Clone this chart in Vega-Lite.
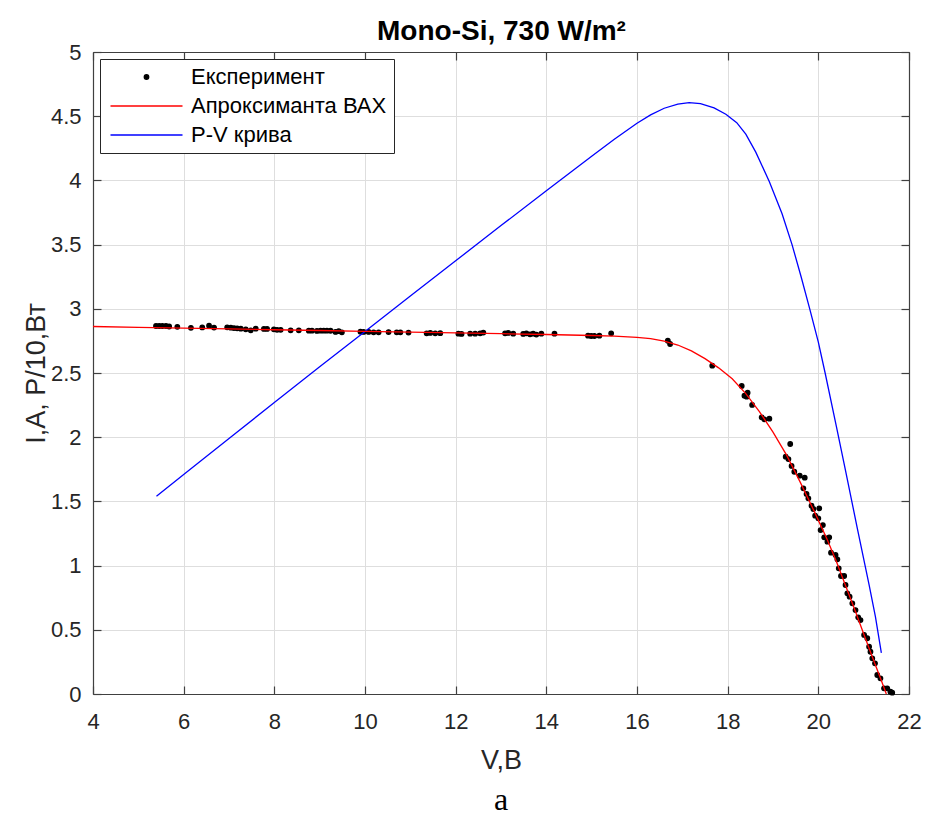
{
  "$schema": "https://vega.github.io/schema/vega-lite/v6.json",
  "width": 816,
  "height": 642,
  "autosize": "none",
  "padding": {"left": 93, "top": 52, "right": 18, "bottom": 126},
  "background": "white",
  "title": {"text": "а", "orient": "bottom", "font": "Liberation Serif", "fontSize": 32, "fontWeight": "normal", "color": "black", "offset": 12},
  "config": {
    "view": {"stroke": null},
    "axis": {
      "labelFont": "Liberation Sans",
      "titleFont": "Liberation Sans",
      "labelFontSize": 22,
      "titleFontSize": 27,
      "titleFontWeight": "normal",
      "labelColor": "#262626",
      "titleColor": "#262626",
      "domainColor": "#404040",
      "tickColor": "#404040",
      "domainWidth": 1.2,
      "tickWidth": 1.2,
      "gridColor": "#dedede",
      "gridWidth": 1,
      "labelOverlap": false,
      "labelFlush": false
    },
    "legend": {
      "labelFont": "Liberation Sans",
      "labelFontSize": 22,
      "labelColor": "black",
      "labelLimit": 400
    }
  },
  "datasets": {
    "exp": [
      {"V": 5.39, "I": 2.866}, {"V": 5.46, "I": 2.866}, {"V": 5.53, "I": 2.866}, {"V": 5.61, "I": 2.866},
      {"V": 5.68, "I": 2.862}, {"V": 5.86, "I": 2.860}, {"V": 6.16, "I": 2.852}, {"V": 6.41, "I": 2.855},
      {"V": 6.56, "I": 2.868}, {"V": 6.67, "I": 2.854}, {"V": 6.96, "I": 2.856}, {"V": 7.04, "I": 2.853},
      {"V": 7.11, "I": 2.850}, {"V": 7.18, "I": 2.848}, {"V": 7.26, "I": 2.845}, {"V": 7.37, "I": 2.840},
      {"V": 7.48, "I": 2.832}, {"V": 7.59, "I": 2.845}, {"V": 7.77, "I": 2.843}, {"V": 7.84, "I": 2.843},
      {"V": 7.99, "I": 2.840}, {"V": 8.06, "I": 2.836}, {"V": 8.14, "I": 2.836}, {"V": 8.36, "I": 2.832},
      {"V": 8.54, "I": 2.832}, {"V": 8.76, "I": 2.830}, {"V": 8.83, "I": 2.830}, {"V": 8.94, "I": 2.828},
      {"V": 9.02, "I": 2.830}, {"V": 9.09, "I": 2.830}, {"V": 9.16, "I": 2.830}, {"V": 9.24, "I": 2.829},
      {"V": 9.35, "I": 2.820}, {"V": 9.42, "I": 2.826}, {"V": 9.49, "I": 2.817}, {"V": 9.90, "I": 2.822},
      {"V": 9.97, "I": 2.820}, {"V": 10.08, "I": 2.820}, {"V": 10.19, "I": 2.817}, {"V": 10.30, "I": 2.817},
      {"V": 10.52, "I": 2.819}, {"V": 10.70, "I": 2.817}, {"V": 10.78, "I": 2.817}, {"V": 10.96, "I": 2.815},
      {"V": 11.36, "I": 2.809}, {"V": 11.44, "I": 2.812}, {"V": 11.55, "I": 2.809}, {"V": 11.66, "I": 2.810},
      {"V": 12.06, "I": 2.806}, {"V": 12.13, "I": 2.804}, {"V": 12.32, "I": 2.806}, {"V": 12.43, "I": 2.806},
      {"V": 12.54, "I": 2.809}, {"V": 12.61, "I": 2.815}, {"V": 13.09, "I": 2.809}, {"V": 13.16, "I": 2.812},
      {"V": 13.27, "I": 2.806}, {"V": 13.49, "I": 2.804}, {"V": 13.56, "I": 2.809}, {"V": 13.64, "I": 2.801},
      {"V": 13.71, "I": 2.806}, {"V": 13.78, "I": 2.799}, {"V": 13.89, "I": 2.806}, {"V": 14.18, "I": 2.806},
      {"V": 14.92, "I": 2.791}, {"V": 14.99, "I": 2.788}, {"V": 15.06, "I": 2.788}, {"V": 15.17, "I": 2.791},
      {"V": 15.43, "I": 2.809},
      {"V": 16.68, "I": 2.752}, {"V": 16.73, "I": 2.726}, {"V": 17.66, "I": 2.557},
      {"V": 18.31, "I": 2.399}, {"V": 18.37, "I": 2.323}, {"V": 18.44, "I": 2.347}, {"V": 18.42, "I": 2.316},
      {"V": 18.54, "I": 2.251}, {"V": 18.75, "I": 2.155}, {"V": 18.81, "I": 2.139}, {"V": 18.92, "I": 2.144},
      {"V": 19.38, "I": 1.947}, {"V": 19.28, "I": 1.848}, {"V": 19.34, "I": 1.830}, {"V": 19.41, "I": 1.776},
      {"V": 19.47, "I": 1.731}, {"V": 19.59, "I": 1.700}, {"V": 19.70, "I": 1.685}, {"V": 19.67, "I": 1.602},
      {"V": 19.74, "I": 1.558}, {"V": 19.78, "I": 1.524}, {"V": 19.85, "I": 1.467}, {"V": 19.89, "I": 1.441},
      {"V": 20.02, "I": 1.446}, {"V": 19.93, "I": 1.389}, {"V": 20.00, "I": 1.368}, {"V": 20.10, "I": 1.316},
      {"V": 20.05, "I": 1.277}, {"V": 20.13, "I": 1.220}, {"V": 20.24, "I": 1.220}, {"V": 20.20, "I": 1.186},
      {"V": 20.28, "I": 1.101}, {"V": 20.38, "I": 1.083}, {"V": 20.42, "I": 1.049}, {"V": 20.45, "I": 0.979},
      {"V": 20.50, "I": 0.919}, {"V": 20.57, "I": 0.919}, {"V": 20.60, "I": 0.849}, {"V": 20.64, "I": 0.784},
      {"V": 20.69, "I": 0.758}, {"V": 20.75, "I": 0.706}, {"V": 20.82, "I": 0.654}, {"V": 20.88, "I": 0.597},
      {"V": 20.93, "I": 0.576}, {"V": 21.01, "I": 0.460}, {"V": 21.08, "I": 0.434}, {"V": 21.12, "I": 0.368},
      {"V": 21.15, "I": 0.329}, {"V": 21.19, "I": 0.278}, {"V": 21.25, "I": 0.239}, {"V": 21.30, "I": 0.148},
      {"V": 21.37, "I": 0.122}, {"V": 21.45, "I": 0.044}, {"V": 21.52, "I": 0.044}, {"V": 21.59, "I": 0.018},
      {"V": 21.63, "I": 0.010}
    ],
    "fit": [
      {"V": 4.0, "I": 2.862}, {"V": 5.0, "I": 2.856}, {"V": 6.0, "I": 2.850}, {"V": 7.0, "I": 2.843},
      {"V": 8.0, "I": 2.837}, {"V": 9.0, "I": 2.831}, {"V": 10.0, "I": 2.824}, {"V": 11.0, "I": 2.818},
      {"V": 12.0, "I": 2.812}, {"V": 13.0, "I": 2.806}, {"V": 14.0, "I": 2.800}, {"V": 15.0, "I": 2.792},
      {"V": 15.5, "I": 2.787}, {"V": 16.0, "I": 2.778}, {"V": 16.3, "I": 2.767}, {"V": 16.6, "I": 2.748},
      {"V": 16.9, "I": 2.718}, {"V": 17.2, "I": 2.672}, {"V": 17.5, "I": 2.612}, {"V": 17.8, "I": 2.540},
      {"V": 18.1, "I": 2.455}, {"V": 18.4, "I": 2.340}, {"V": 18.7, "I": 2.200}, {"V": 19.0, "I": 2.040},
      {"V": 19.3, "I": 1.860}, {"V": 19.6, "I": 1.650}, {"V": 19.9, "I": 1.430}, {"V": 20.2, "I": 1.200},
      {"V": 20.4, "I": 1.030}, {"V": 20.6, "I": 0.845}, {"V": 20.8, "I": 0.660}, {"V": 21.0, "I": 0.470},
      {"V": 21.2, "I": 0.280}, {"V": 21.4, "I": 0.095}, {"V": 21.5, "I": 0.0}
    ],
    "pv": [
      {"V": 5.4, "P": 1.540}, {"V": 6.0, "P": 1.710}, {"V": 7.0, "P": 1.990}, {"V": 8.0, "P": 2.270},
      {"V": 9.0, "P": 2.548}, {"V": 10.0, "P": 2.824}, {"V": 11.0, "P": 3.100}, {"V": 12.0, "P": 3.374},
      {"V": 13.0, "P": 3.648}, {"V": 14.0, "P": 3.920}, {"V": 15.0, "P": 4.188}, {"V": 15.5, "P": 4.320},
      {"V": 16.0, "P": 4.445}, {"V": 16.3, "P": 4.510}, {"V": 16.6, "P": 4.562}, {"V": 16.9, "P": 4.594},
      {"V": 17.15, "P": 4.605}, {"V": 17.4, "P": 4.598}, {"V": 17.7, "P": 4.565}, {"V": 17.96, "P": 4.515},
      {"V": 18.2, "P": 4.450}, {"V": 18.4, "P": 4.360}, {"V": 18.62, "P": 4.220}, {"V": 18.92, "P": 3.990},
      {"V": 19.2, "P": 3.740}, {"V": 19.42, "P": 3.500}, {"V": 19.62, "P": 3.250}, {"V": 19.81, "P": 3.000},
      {"V": 20.0, "P": 2.740}, {"V": 20.15, "P": 2.500}, {"V": 20.4, "P": 2.080}, {"V": 20.6, "P": 1.740},
      {"V": 20.86, "P": 1.290}, {"V": 21.12, "P": 0.850}, {"V": 21.26, "P": 0.600}, {"V": 21.39, "P": 0.320}
    ]
  },
  "layer": [
    {
      "data": {"name": "exp"},
      "mark": {
        "type": "point", "filled": true, "size": 100, "opacity": 1, "strokeWidth": 1.3,
        "fill": {"expr": "datum.value === 'Апроксиманта ВАХ' || datum.value === 'P-V крива' ? 'transparent' : 'black'"},
        "stroke": {"expr": "datum.value === 'Апроксиманта ВАХ' ? 'red' : (datum.value === 'P-V крива' ? 'blue' : 'black')"}
      },
      "encoding": {
        "x": {
          "field": "V", "type": "quantitative",
          "scale": {"domain": [4, 22], "nice": false, "zero": false},
          "axis": {
            "orient": "bottom", "values": [4, 6, 8, 10, 12, 14, 16, 18, 20, 22], "format": "~g",
            "title": "V,B", "grid": true, "tickSize": -8, "labelPadding": 25, "titlePadding": 15
          }
        },
        "y": {
          "field": "I", "type": "quantitative",
          "scale": {"domain": [0, 5], "nice": false, "zero": false},
          "axis": {
            "orient": "left", "values": [0, 0.5, 1, 1.5, 2, 2.5, 3, 3.5, 4, 4.5, 5], "format": "~g",
            "title": "I,A, P/10,Вт", "grid": true, "tickSize": -8, "labelPadding": 20, "titlePadding": 0
          }
        },
        "shape": {
          "datum": "Експеримент", "type": "nominal",
          "scale": {
            "domain": ["Експеримент", "Апроксиманта ВАХ", "P-V крива"],
            "range": ["M-0.45,0A0.45,0.45 0 1 1 0.45,0A0.45,0.45 0 1 1 -0.45,0Z", "M-7.2,0H7.2", "M-7.2,0H7.2"]
          },
          "legend": {
            "title": null,
            "orient": "top-left",
            "offset": 7,
            "padding": 7,
            "rowPadding": 7,
            "symbolSize": 100,
            "symbolStrokeWidth": 1.3,
            "symbolOffset": 28.5,
            "labelOffset": 33.5,
            "strokeColor": "#262626",
            "fillColor": "white"
          }
        }
      }
    },
    {
      "data": {"name": "pv"},
      "mark": {"type": "line", "color": "#0000ff", "strokeWidth": 1.3},
      "encoding": {
        "x": {
          "field": "V", "type": "quantitative",
          "axis": {
            "orient": "top", "values": [4, 6, 8, 10, 12, 14, 16, 18, 20, 22], "labels": false, "grid": false,
            "tickSize": -8, "title": "Mono-Si, 730 W/m²", "titleFontWeight": "bold", "titleFontSize": 28,
            "titleColor": "black", "titlePadding": 6
          }
        },
        "y": {
          "field": "P", "type": "quantitative",
          "axis": {
            "orient": "right", "values": [0, 0.5, 1, 1.5, 2, 2.5, 3, 3.5, 4, 4.5, 5], "labels": false, "grid": false,
            "tickSize": -8, "title": null
          }
        }
      }
    },
    {
      "data": {"name": "fit"},
      "mark": {"type": "line", "color": "#ff0000", "strokeWidth": 1.3},
      "encoding": {
        "x": {"field": "V", "type": "quantitative", "axis": null},
        "y": {"field": "I", "type": "quantitative", "axis": null}
      }
    }
  ],
  "resolve": {"axis": {"x": "independent", "y": "independent"}}
}
